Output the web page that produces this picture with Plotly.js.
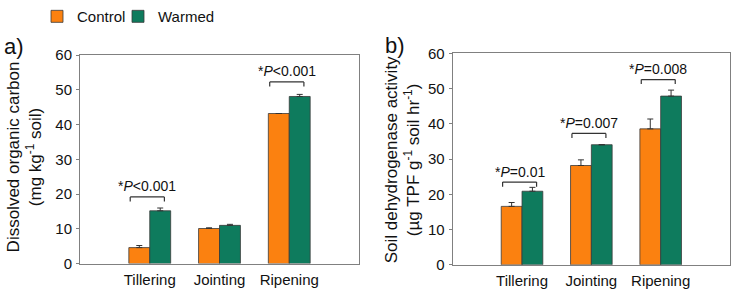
<!DOCTYPE html>
<html>
<head>
<meta charset="utf-8">
<script src="https://cdn.plot.ly/plotly-3.0.1.min.js"></script>
<style>html,body{margin:0;padding:0;background:#fff;}#chart{width:738px;height:298px;}</style>
</head>
<body>
<div id="chart"></div>
<script>
// ---- data ----
var categories = ['Tillering', 'Jointing', 'Ripening'];
var seriesNames = ['Control', 'Warmed'];

// a) Dissolved organic carbon (mg kg-1 soil)
var docControl = [4.6, 10.1, 43.2];
var docControlErr = [0.6, 0.2, 0.0];
var docWarmed = [15.2, 11.0, 48.1];
var docWarmedErr = [0.8, 0.3, 0.6];
var docPLabels = ['*<i>P</i>&lt;0.001', '', '*<i>P</i>&lt;0.001'];

// b) Soil dehydrogenase activity (ug TPF g-1 soil hr-1)
var dhaControl = [16.6, 28.2, 38.6];
var dhaControlErr = [1.1, 1.6, 2.8];
var dhaWarmed = [20.9, 34.1, 47.9];
var dhaWarmedErr = [1.1, 0.0, 1.7];
var dhaPLabels = ['*<i>P</i>=0.01', '*<i>P</i>=0.007', '*<i>P</i>=0.008'];

var yTickVals = [0, 10, 20, 30, 40, 50, 60];

// ---- style ----
var FONT = 'Arial, "Liberation Sans", Helvetica, sans-serif';
var ORANGE = '#FB8110';
var GREEN = '#0E7B5D';
var AXIS = '#808080';
var bracketLiftA = [3.2, 0, 3.6];
var bracketLiftB = [1.5, 3.2, 3.0];
var bracketLeft = -0.28, bracketRight = 0.21, bracketDrop = 1.3;

function barTrace(name, y, err, color, xa, ya, show, legendId) {
  return {
    type: 'bar', name: name, x: categories, y: y,
    xaxis: xa, yaxis: ya, showlegend: show, legendgroup: name, legend: legendId,
    marker: {color: color, line: {color: '#3a3a3a', width: 0.8}},
    error_y: {type: 'data', array: err, arrayminus: err.map(function(){return 0;}),
              symmetric: false, color: '#333', thickness: 1, width: 3}
  };
}

var data = [
  barTrace(seriesNames[0], docControl, docControlErr, ORANGE, 'x', 'y', true, 'legend'),
  barTrace(seriesNames[1], docWarmed, docWarmedErr, GREEN, 'x', 'y', true, 'legend2'),
  barTrace(seriesNames[0], dhaControl, dhaControlErr, ORANGE, 'x2', 'y2', false, 'legend'),
  barTrace(seriesNames[1], dhaWarmed, dhaWarmedErr, GREEN, 'x2', 'y2', false, 'legend2')
];

var shapes = [];
var annotations = [];
function addBrackets(labels, c, ce, w, we, lift, xref, yref) {
  labels.forEach(function(lab, i) {
    if (!lab) return;
    var top = Math.max(c[i] + ce[i], w[i] + we[i]) + lift[i];
    var x0 = i + bracketLeft, x1 = i + bracketRight;
    var ln = {color: '#333', width: 1.2};
    shapes.push({type: 'line', xref: xref, yref: yref, x0: x0, x1: x1, y0: top, y1: top, line: ln});
    shapes.push({type: 'line', xref: xref, yref: yref, x0: x0, x1: x0, y0: top, y1: top - bracketDrop, line: ln});
    shapes.push({type: 'line', xref: xref, yref: yref, x0: x1, x1: x1, y0: top, y1: top - bracketDrop, line: ln});
    annotations.push({xref: xref, yref: yref, x: (x0 + x1) / 2, y: top, text: lab,
      showarrow: false, xanchor: 'center', yanchor: 'middle', yshift: 10.5,
      font: {family: FONT, size: 14, color: '#111'}});
  });
}
addBrackets(docPLabels, docControl, docControlErr, docWarmed, docWarmedErr, bracketLiftA, 'x', 'y');
addBrackets(dhaPLabels, dhaControl, dhaControlErr, dhaWarmed, dhaWarmedErr, bracketLiftB, 'x2', 'y2');

var W = 738, H = 298;
annotations.push({xref: 'paper', yref: 'paper', x: 14 / W, y: 1 - 42 / H, text: 'a)', showarrow: false,
  xanchor: 'center', yanchor: 'middle', font: {family: FONT, size: 22, color: '#111'}});
annotations.push({xref: 'paper', yref: 'paper', x: 395 / W, y: 1 - 41 / H, text: 'b)', showarrow: false,
  xanchor: 'center', yanchor: 'middle', font: {family: FONT, size: 22, color: '#111'}});
annotations.push({xref: 'paper', yref: 'paper', x: 24 / W, y: 1 - 155 / H, textangle: -90,
  text: 'Dissolved organic carbon<br>(mg kg<sup>-1</sup> soil)', showarrow: false,
  xanchor: 'center', yanchor: 'middle', font: {family: FONT, size: 17, color: '#111'}});
annotations.push({xref: 'paper', yref: 'paper', x: 402 / W, y: 1 - 158 / H, textangle: -90,
  text: 'Soil dehydrogenase activity<br>(µg TPF g<sup>-1</sup> soil hr<sup>-1</sup>)', showarrow: false,
  xanchor: 'center', yanchor: 'middle', font: {family: FONT, size: 17, color: '#111'}});

function xAxis(domain) {
  return {domain: domain, type: 'category', range: [-1, 3], showline: true, mirror: true,
    linecolor: AXIS, linewidth: 1, ticks: '', showgrid: false, zeroline: false,
    tickfont: {family: FONT, size: 15, color: '#111'}, ticklabelstandoff: 2};
}
function yAxis(domain, anchor) {
  return {domain: domain, anchor: anchor, range: [0, 60], tickvals: yTickVals, showline: true, mirror: true,
    linecolor: AXIS, linewidth: 1, ticks: 'outside', ticklen: 3, tickcolor: AXIS, showgrid: false,
    zeroline: false, tickfont: {family: FONT, size: 15, color: '#111'}, ticklabelstandoff: 1};
}
function legendAt(px) {
  return {orientation: 'h', x: px / W, xanchor: 'left', y: 1 + 5 / H, yanchor: 'top',
    bgcolor: 'rgba(0,0,0,0)', font: {family: FONT, size: 15, color: '#111'}};
}

var layout = {
  width: W, height: H,
  margin: {l: 0, r: 0, t: 0, b: 0},
  paper_bgcolor: '#fff', plot_bgcolor: '#fff',
  barmode: 'group', bargap: 0.4, bargroupgap: 0,
  xaxis: xAxis([80 / W, 359 / W]),
  yaxis: yAxis([1 - 263 / H, 1 - 51 / H], 'x'),
  xaxis2: Object.assign(xAxis([452.7 / W, 730 / W]), {anchor: 'y2'}),
  yaxis2: yAxis([1 - 264.3 / H, 1 - 49.3 / H], 'x2'),
  showlegend: true,
  legend: legendAt(37),
  legend2: legendAt(118),
  shapes: shapes,
  annotations: annotations
};
layout.xaxis.anchor = 'y';

Plotly.newPlot('chart', data, layout, {displayModeBar: false, staticPlot: true});
</script>
</body>
</html>
